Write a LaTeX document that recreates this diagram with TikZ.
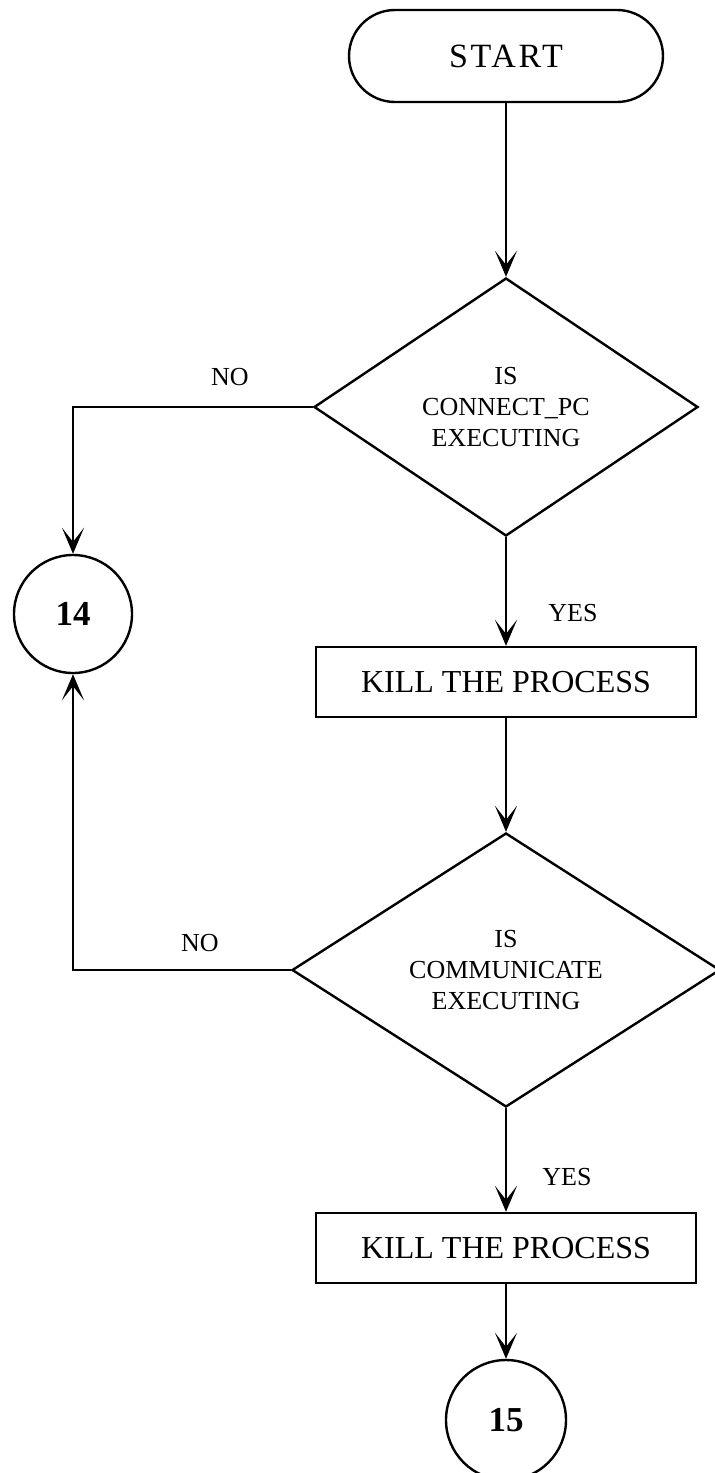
\documentclass[tikz,border=0pt]{standalone}
\usepackage{fontspec}
\setmainfont{Liberation Serif}
\usetikzlibrary{shapes.geometric,arrows.meta}

\tikzset{
  flow/.style={line width=1.2pt, -{Stealth[length=13pt,width=11pt,inset=7pt]}},
  terminal/.style={draw, line width=1.2pt, rectangle, rounded corners=23pt,
    minimum width=157pt, minimum height=46pt, inner sep=0pt,
    font=\fontsize{17}{20}\selectfont\addfontfeature{LetterSpace=8}},
  decision/.style={draw, line width=1.2pt, diamond, inner sep=0pt, align=center,
    font=\fontsize{13}{15.5}\selectfont},
  process/.style={draw, line width=1.2pt, rectangle, minimum width=190pt,
    minimum height=35pt, inner sep=0pt, font=\fontsize{16}{19}\selectfont},
  connector/.style={draw, line width=1.2pt, circle, inner sep=0pt,
    font=\fontsize{17.5}{20}\selectfont\bfseries},
  tag/.style={inner sep=0pt, font=\fontsize{13}{15}\selectfont}
}

\begin{document}
\begin{tikzpicture}[x=0.5pt, y=-0.5pt]
  \useasboundingbox (0,0) rectangle (715,1473);
  \clip (0,0) rectangle (715,1473);

  % shapes
  \node[terminal] (start) at (506,56) {START};
  \node[decision, minimum width=192pt, minimum height=129pt] (d1) at (506,407)
    {IS\\CONNECT\_PC\\EXECUTING};
  \node[connector, minimum size=59pt] (c14) at (73,614) {14};
  \node[process] (k1) at (506,682) {KILL THE PROCESS};
  \node[decision, minimum width=214pt, minimum height=137pt] (d2) at (506,970)
    {IS\\COMMUNICATE\\EXECUTING};
  \node[process] (k2) at (506,1248) {KILL THE PROCESS};
  \node[connector, minimum size=60pt] (c15) at (506,1420) {15};

  % branch labels
  \node[tag] (no1) at (230,377) {NO};
  \node[tag] (yes1) at (573,613) {YES};
  \node[tag] (no2) at (200,943) {NO};
  \node[tag] (yes2) at (567,1177) {YES};

  % connectors
  \draw[flow] (start) -- (d1.north);
  \draw[flow] (d1.south) -- (k1.north);
  \draw[flow] (d1.west) -| (c14.north);
  \draw[flow] (k1.south) -- (d2.north);
  \draw[flow] (d2.west) -| (c14.south);
  \draw[flow] (d2.south) -- (k2.north);
  \draw[flow] (k2.south) -- (c15.north);
\end{tikzpicture}
\end{document}
